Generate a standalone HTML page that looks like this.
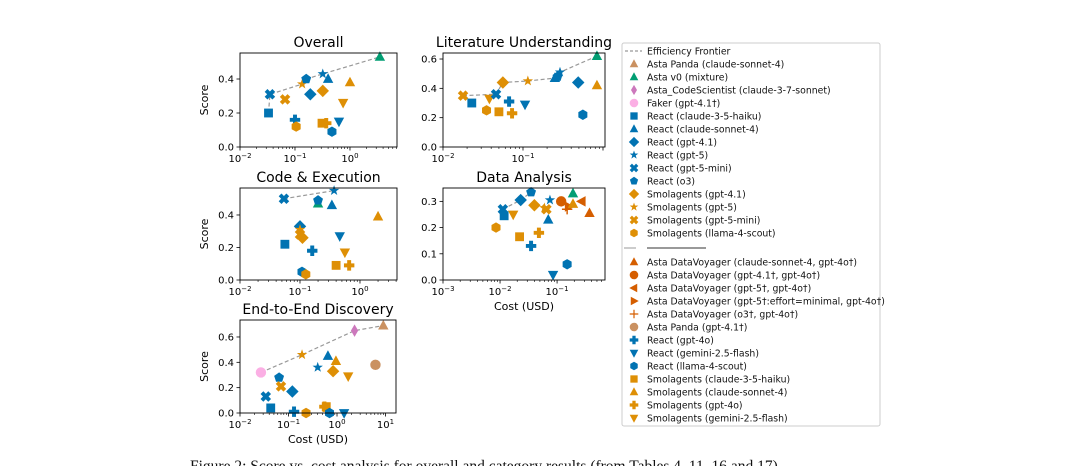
<!DOCTYPE html>
<html><head><meta charset="utf-8"><style>
body{margin:0;background:#fff;width:1080px;height:466px;overflow:hidden}
svg{display:block;font-family:"DejaVu Sans","Liberation Sans",sans-serif}
</style></head><body>
<svg id="fig" width="1080" height="466" viewBox="0 0 1080 466" xmlns="http://www.w3.org/2000/svg">
<text x="190" y="471" font-family="Liberation Serif, serif" font-size="15.5" fill="#111">Figure 2: Score vs. cost analysis for overall and category results (from Tables 4, 11, 16 and 17).</text>
</svg>
<script>
// ---- series definitions ----
const seriesKeys = ['apc','av0','acs','fk','rh','rc','r41','r5','r5m','ro3','s41','s5','s5m','sl','dvc','dv41','dv5','dv5m','dvo3','ap41','r4o','rg','rl','sh','sc','s4o','sg'];
const seriesLabels = ['Asta Panda (claude-sonnet-4)','Asta v0 (mixture)','Asta_CodeScientist (claude-3-7-sonnet)','Faker (gpt-4.1†)','React (claude-3-5-haiku)','React (claude-sonnet-4)','React (gpt-4.1)','React (gpt-5)','React (gpt-5-mini)','React (o3)','Smolagents (gpt-4.1)','Smolagents (gpt-5)','Smolagents (gpt-5-mini)','Smolagents (llama-4-scout)','Asta DataVoyager (claude-sonnet-4, gpt-4o†)','Asta DataVoyager (gpt-4.1†, gpt-4o†)','Asta DataVoyager (gpt-5†, gpt-4o†)','Asta DataVoyager (gpt-5†:effort=minimal, gpt-4o†)','Asta DataVoyager (o3†, gpt-4o†)','Asta Panda (gpt-4.1†)','React (gpt-4o)','React (gemini-2.5-flash)','React (llama-4-scout)','Smolagents (claude-3-5-haiku)','Smolagents (claude-sonnet-4)','Smolagents (gpt-4o)','Smolagents (gemini-2.5-flash)'];
const B='#0173b2',O='#de8f05',G='#029e73',T='#ca9161',PK='#fbafe4',PU='#cc78bc',DO='#d55e00';
const seriesColors = [T,G,PU,PK,B,B,B,B,B,B,O,O,O,O,DO,DO,DO,DO,DO,T,B,B,B,O,O,O,O];
const seriesMarkers = ['^','^','d','o','s','^','D','*','X','p','D','*','X','h','^','o','<','>','+','o','P','v','h','s','^','P','v'];

// ---- panel data ----
const overallSeries = ['rh','r5m','s5m','s5','ro3','r5','rc','av0','r41','s41','sc','sg','r4o','sl','sh','s4o','rg','rl'];
const overallCost   = [0.033,0.035,0.066,0.135,0.16,0.32,0.4,3.5,0.19,0.32,1.0,0.75,0.10,0.105,0.31,0.37,0.63,0.47];
const overallScore  = [0.20,0.31,0.28,0.37,0.40,0.43,0.40,0.53,0.31,0.33,0.38,0.26,0.16,0.12,0.14,0.14,0.15,0.09];
const overallFrontier = ['rh','r5m','s5','ro3','r5','av0'];

const litSeries = ['s5m','rh','sg','r5m','sl','sh','s41','r4o','s4o','rg','s5','rc','ro3','r5','r41','av0','sc','rl'];
const litCost   = [0.0178,0.0229,0.038,0.046,0.035,0.05,0.056,0.067,0.073,0.106,0.115,0.25,0.27,0.29,0.49,0.84,0.84,0.56];
const litScore  = [0.35,0.30,0.33,0.36,0.25,0.24,0.44,0.31,0.23,0.29,0.45,0.47,0.48,0.51,0.44,0.62,0.42,0.22];
const litFrontier = ['s5m','r5m','s41','s5','rc','r5','av0'];

const codeSeries = ['r5m','r5','av0','ro3','rc','sc','r41','s5','s5m','s41','rh','r4o','rg','sg','sh','s4o','rl','sl'];
const codeCost   = [0.054,0.37,0.2,0.2,0.34,2.0,0.1,0.1,0.1,0.11,0.056,0.16,0.46,0.56,0.4,0.66,0.108,0.125];
const codeScore  = [0.50,0.55,0.47,0.49,0.46,0.39,0.33,0.31,0.28,0.26,0.22,0.18,0.27,0.17,0.09,0.09,0.05,0.035];
const codeFrontier = ['r5m','r5'];

const daSeries = ['sl','r5m','rh','sg','r41','ro3','s41','s5','s5m','r5','dv41','dvo3','dv5m','av0','sc','dv5','dvc','rc','sh','s4o','r4o','rl','rg'];
const daCost   = [0.0085,0.0112,0.0118,0.017,0.023,0.035,0.04,0.06,0.065,0.075,0.118,0.15,0.16,0.19,0.19,0.27,0.37,0.07,0.022,0.048,0.035,0.15,0.085];
const daScore  = [0.20,0.27,0.245,0.25,0.305,0.335,0.285,0.275,0.27,0.305,0.30,0.27,0.28,0.33,0.29,0.30,0.255,0.23,0.165,0.18,0.13,0.06,0.02];
const daFrontier = ['r5m','r41','ro3'];

const e2eSeries = ['fk','s5','acs','apc','rc','r5','sc','s41','sg','ap41','ro3','s5m','r41','r5m','rh','r4o','sl','s4o','sh','rl','rg'];
const e2eCost   = [0.027,0.19,2.3,9.0,0.65,0.4,0.95,0.83,1.7,6.2,0.064,0.07,0.12,0.034,0.043,0.13,0.23,0.55,0.6,0.7,1.4];
const e2eScore  = [0.32,0.46,0.65,0.69,0.45,0.36,0.41,0.33,0.29,0.38,0.28,0.21,0.17,0.13,0.04,0.01,0.0,0.05,0.05,0.0,0.0];
const e2eFrontier = ['fk','s5','acs','apc'];

const panelTitles = ['Overall','Literature Understanding','Code & Execution','Data Analysis','End-to-End Discovery'];
const yTickSets = [[0,0.2,0.4],[0,0.2,0.4,0.6],[0,0.2,0.4],[0,0.1,0.2,0.3],[0,0.2,0.4,0.6]];
const xDecadeSets = [[-2,-1,0],[-2,-1],[-2,-1,0],[-3,-2,-1],[-2,-1,0,1]];

// ---- layout (pixels) ----
const layout = [
 {x0:240,x1:397,y0:53,y1:147,lmin:-2,lmax:0.855,ymax:0.553,ylab:true,xlab:false},
 {x0:443,x1:605,y0:53,y1:147,lmin:-2,lmax:0.025,ymax:0.641,ylab:false,xlab:false},
 {x0:240,x1:397,y0:188,y1:280,lmin:-2,lmax:0.617,ymax:0.566,ylab:true,xlab:false},
 {x0:443,x1:605,y0:188,y1:280,lmin:-3,lmax:-0.16,ymax:0.351,ylab:false,xlab:true},
 {x0:240,x1:396,y0:320,y1:413,lmin:-2,lmax:1.216,ymax:0.734,ylab:true,xlab:true}
];
const panels = [
 [overallSeries,overallCost,overallScore,overallFrontier],
 [litSeries,litCost,litScore,litFrontier],
 [codeSeries,codeCost,codeScore,codeFrontier],
 [daSeries,daCost,daScore,daFrontier],
 [e2eSeries,e2eCost,e2eScore,e2eFrontier]
];

const NS='http://www.w3.org/2000/svg';
const svg=document.getElementById('fig');
function mk(tag,attrs,parent){const e=document.createElementNS(NS,tag);for(const k in attrs)e.setAttribute(k,attrs[k]);(parent||svg).appendChild(e);return e;}

function crossPoly(w){return [[-w,-1],[w,-1],[w,-w],[1,-w],[1,w],[w,w],[w,1],[-w,1],[-w,w],[-1,w],[-1,-w],[-w,-w]];}
function markerPath(m,x,y,r){
  const pts=(arr)=>'M'+arr.map(p=>(x+p[0]*r).toFixed(2)+','+(y+p[1]*r).toFixed(2)).join('L')+'Z';
  switch(m){
    case '^':return pts([[0,-1.1],[1,0.75],[-1,0.75]]);
    case 'v':return pts([[0,1.1],[1,-0.75],[-1,-0.75]]);
    case '<':return pts([[-1.1,0],[0.75,-1],[0.75,1]]);
    case '>':return pts([[1.1,0],[-0.75,-1],[-0.75,1]]);
    case 's':return pts([[-0.85,-0.85],[0.85,-0.85],[0.85,0.85],[-0.85,0.85]]);
    case 'D':return pts([[0,-1.2],[1.2,0],[0,1.2],[-1.2,0]]);
    case 'd':return pts([[0,-1.2],[0.7,0],[0,1.2],[-0.7,0]]);
    case 'p':{const a=[];for(let i=0;i<5;i++){const t=-Math.PI/2+i*2*Math.PI/5;a.push([Math.cos(t),Math.sin(t)]);}return pts(a);}
    case 'h':{const a=[];for(let i=0;i<6;i++){const t=-Math.PI/2+i*Math.PI/3;a.push([Math.cos(t),Math.sin(t)]);}return pts(a);}
    case '*':{const a=[];for(let i=0;i<10;i++){const t=-Math.PI/2+i*Math.PI/5;const rr=i%2?0.42:1.05;a.push([rr*Math.cos(t),rr*Math.sin(t)]);}return pts(a);}
    case 'X':{const c=Math.SQRT1_2;return pts(crossPoly(0.36).map(p=>[(p[0]-p[1])*c*1.05,(p[0]+p[1])*c*1.05]));}
    case 'P':return pts(crossPoly(0.38));
    case '+':return pts(crossPoly(0.14));
    default:return '';
  }
}
function circleOr(m,x,y,r,color,parent,name){
  let e;
  if(m==='o'){e=mk('circle',{cx:x,cy:y,r:r,fill:color},parent);}
  else{e=mk('path',{d:markerPath(m,x,y,r),fill:color},parent);}
  
  
  return e;
}

panels.forEach((pd,pi)=>{
  const L=layout[pi];
  const g=mk('g',{});
  
  
  const xs=c=>L.x0+(Math.log10(c)-L.lmin)/(L.lmax-L.lmin)*(L.x1-L.x0);
  const ys=s=>L.y1-s/L.ymax*(L.y1-L.y0);
  const t=mk('text',{x:(L.x0+L.x1)/2,y:L.y0-6,'text-anchor':'middle','font-size':'14',fill:'#000'},g);
  t.textContent=panelTitles[pi];
  
  
  yTickSets[pi].forEach(v=>{
    const y=ys(v);
    mk('line',{x1:L.x0-3.5,x2:L.x0,y1:y,y2:y,stroke:'#000','stroke-width':0.8},g);
    const tl=mk('text',{x:L.x0-6,y:y+3.5,'text-anchor':'end','font-size':'10',fill:'#000'},g);
    tl.textContent=v.toFixed(1);
    
    
  });
  for(let d=Math.floor(L.lmin);d<=Math.ceil(L.lmax);d++){
    for(let k=1;k<10;k++){
      const lv=d+Math.log10(k);
      if(lv<L.lmin-1e-6||lv>L.lmax+1e-6)continue;
      const x=xs(Math.pow(10,lv));
      mk('line',{x1:x,x2:x,y1:L.y1,y2:L.y1+(k===1?3.5:2),stroke:'#000','stroke-width':k===1?0.8:0.6},g);
    }
  }
  xDecadeSets[pi].forEach(d=>{
    const x=xs(Math.pow(10,d));
    const tl=mk('text',{x:x,y:L.y1+15,'text-anchor':'middle','font-size':'10',fill:'#000'},g);
    
    
    tl.appendChild(document.createTextNode('10'));
    const sp=mk('tspan',{dy:'-4','font-size':'7'},tl);sp.textContent=String(d).replace('-','\u2212');
  });
  if(L.ylab){
    const yl=mk('text',{x:0,y:0,'text-anchor':'middle','font-size':'11',fill:'#000',transform:`translate(${L.x0-32},${(L.y0+L.y1)/2}) rotate(-90)`},g);
    yl.textContent='Score';
    
    
  }
  if(L.xlab){
    const xl=mk('text',{x:(L.x0+L.x1)/2,y:L.y1+30,'text-anchor':'middle','font-size':'11',fill:'#000'},g);
    xl.textContent='Cost (USD)';
    
    
  }
  const [ser,cost,score,fr]=pd;
  const fpts=fr.map(k=>{const i=ser.indexOf(k);return [xs(cost[i]),ys(score[i])];});
  const fl=mk('polyline',{points:fpts.map(p=>p.join(',')).join(' '),fill:'none',stroke:'#999','stroke-width':1.2,'stroke-dasharray':'4,2.5'},g);
  
  
  ser.forEach((k,i)=>{
    const si=seriesKeys.indexOf(k);
    circleOr(seriesMarkers[si],xs(cost[i]),ys(score[i]),5.2,seriesColors[si],g,'point-'+k);
  });
  const fr2=mk('rect',{x:L.x0,y:L.y0,width:L.x1-L.x0,height:L.y1-L.y0,fill:'none',stroke:'#000','stroke-width':0.9},g);
  
  
});

// ---- legend ----
const lg=mk('g',{});


mk('rect',{x:622,y:43,width:258,height:383,rx:2,fill:'#fff',stroke:'#ccc','stroke-width':1},lg);
function legText(y,txt){const e=mk('text',{x:647,y:y+3.5,'font-size':'9.3',fill:'#111'},lg);e.textContent=txt;}
let ly=51;
mk('line',{x1:625,x2:642,y1:ly,y2:ly,stroke:'#999','stroke-width':1.2,'stroke-dasharray':'3,2'},lg);
legText(ly,'Efficiency Frontier');
for(let i=0;i<14;i++){ly+=13;circleOr(seriesMarkers[i],634,ly,4.3,seriesColors[i],lg,'legend-marker');legText(ly,seriesLabels[i]);}
mk('line',{x1:624,x2:636,y1:248,y2:248,stroke:'#999','stroke-width':1},lg);
mk('line',{x1:647,x2:706,y1:248,y2:248,stroke:'#333','stroke-width':1},lg);
ly=262;
for(let i=14;i<seriesKeys.length;i++){circleOr(seriesMarkers[i],634,ly,4.3,seriesColors[i],lg,'legend-marker');legText(ly,seriesLabels[i]);ly+=13;}
</script>
</body></html>
